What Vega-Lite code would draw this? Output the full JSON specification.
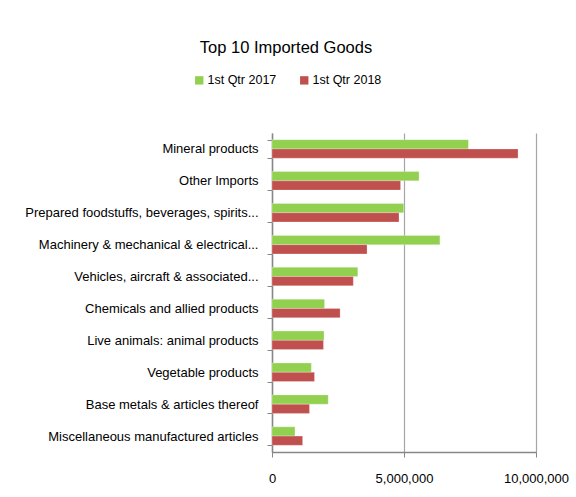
{
  "$schema": "https://vega.github.io/schema/vega-lite/v6.json",
  "autosize": {"type": "none"},
  "width": 264,
  "height": 319,
  "padding": {"left": 272, "top": 133, "right": 40, "bottom": 45},
  "background": "white",
  "title": {
    "text": "Top 10 Imported Goods",
    "font": "Liberation Sans",
    "fontSize": 16.5,
    "fontWeight": "normal",
    "color": "#000000",
    "anchor": "middle",
    "dx": -118,
    "offset": 18
  },
  "config": {
    "view": {"stroke": null},
    "font": "Liberation Sans"
  },
  "data": {
    "values": [
      {"category": "Mineral products", "period": "1st Qtr 2017", "value": 7440000},
      {"category": "Mineral products", "period": "1st Qtr 2018", "value": 9320000},
      {"category": "Other Imports", "period": "1st Qtr 2017", "value": 5570000},
      {"category": "Other Imports", "period": "1st Qtr 2018", "value": 4870000},
      {"category": "Prepared foodstuffs, beverages, spirits...", "period": "1st Qtr 2017", "value": 4990000},
      {"category": "Prepared foodstuffs, beverages, spirits...", "period": "1st Qtr 2018", "value": 4810000},
      {"category": "Machinery & mechanical & electrical...", "period": "1st Qtr 2017", "value": 6360000},
      {"category": "Machinery & mechanical & electrical...", "period": "1st Qtr 2018", "value": 3600000},
      {"category": "Vehicles, aircraft & associated...", "period": "1st Qtr 2017", "value": 3250000},
      {"category": "Vehicles, aircraft & associated...", "period": "1st Qtr 2018", "value": 3080000},
      {"category": "Chemicals and allied products", "period": "1st Qtr 2017", "value": 1990000},
      {"category": "Chemicals and allied products", "period": "1st Qtr 2018", "value": 2580000},
      {"category": "Live animals: animal products", "period": "1st Qtr 2017", "value": 1970000},
      {"category": "Live animals: animal products", "period": "1st Qtr 2018", "value": 1950000},
      {"category": "Vegetable products", "period": "1st Qtr 2017", "value": 1490000},
      {"category": "Vegetable products", "period": "1st Qtr 2018", "value": 1610000},
      {"category": "Base metals & articles thereof", "period": "1st Qtr 2017", "value": 2130000},
      {"category": "Base metals & articles thereof", "period": "1st Qtr 2018", "value": 1420000},
      {"category": "Miscellaneous manufactured articles", "period": "1st Qtr 2017", "value": 870000},
      {"category": "Miscellaneous manufactured articles", "period": "1st Qtr 2018", "value": 1160000}
    ]
  },
  "mark": {"type": "bar", "stroke": "white", "strokeOpacity": 0.5, "strokeWidth": 0.5},
  "encoding": {
    "y": {
      "field": "category",
      "type": "nominal",
      "sort": null,
      "scale": {"paddingInner": 0.42, "paddingOuter": 0.21},
      "axis": {
        "title": null,
        "tickBand": "extent",
        "domainColor": "#868686",
        "domainWidth": 1.5,
        "tickColor": "#868686",
        "tickSize": 5,
        "labelPadding": 9,
        "labelFontSize": 13,
        "labelColor": "#000000",
        "labelLimit": 300
      }
    },
    "yOffset": {"field": "period", "type": "nominal", "sort": ["1st Qtr 2017", "1st Qtr 2018"]},
    "x": {
      "field": "value",
      "type": "quantitative",
      "scale": {"domain": [0, 10000000], "nice": false},
      "axis": {
        "title": null,
        "values": [0, 5000000, 10000000],
        "format": ",d",
        "grid": true,
        "gridColor": "#a6a6a6",
        "gridWidth": 1.2,
        "domainColor": "#868686",
        "domainWidth": 1.5,
        "tickColor": "#868686",
        "tickSize": 5,
        "labelPadding": 15,
        "labelFontSize": 13,
        "labelColor": "#000000",
        "labelFlush": false,
        "labelOverlap": false
      }
    },
    "color": {
      "field": "period",
      "type": "nominal",
      "scale": {"domain": ["1st Qtr 2017", "1st Qtr 2018"], "range": ["#92d050", "#c0504d"]},
      "legend": {
        "title": null,
        "orient": "none",
        "direction": "horizontal",
        "legendX": -79,
        "legendY": -59,
        "symbolType": "square",
        "symbolSize": 70,
        "symbolStrokeWidth": 0,
        "labelFontSize": 12.5,
        "labelColor": "#000000",
        "columnPadding": 21,
        "labelOffset": 2
      }
    }
  }
}
